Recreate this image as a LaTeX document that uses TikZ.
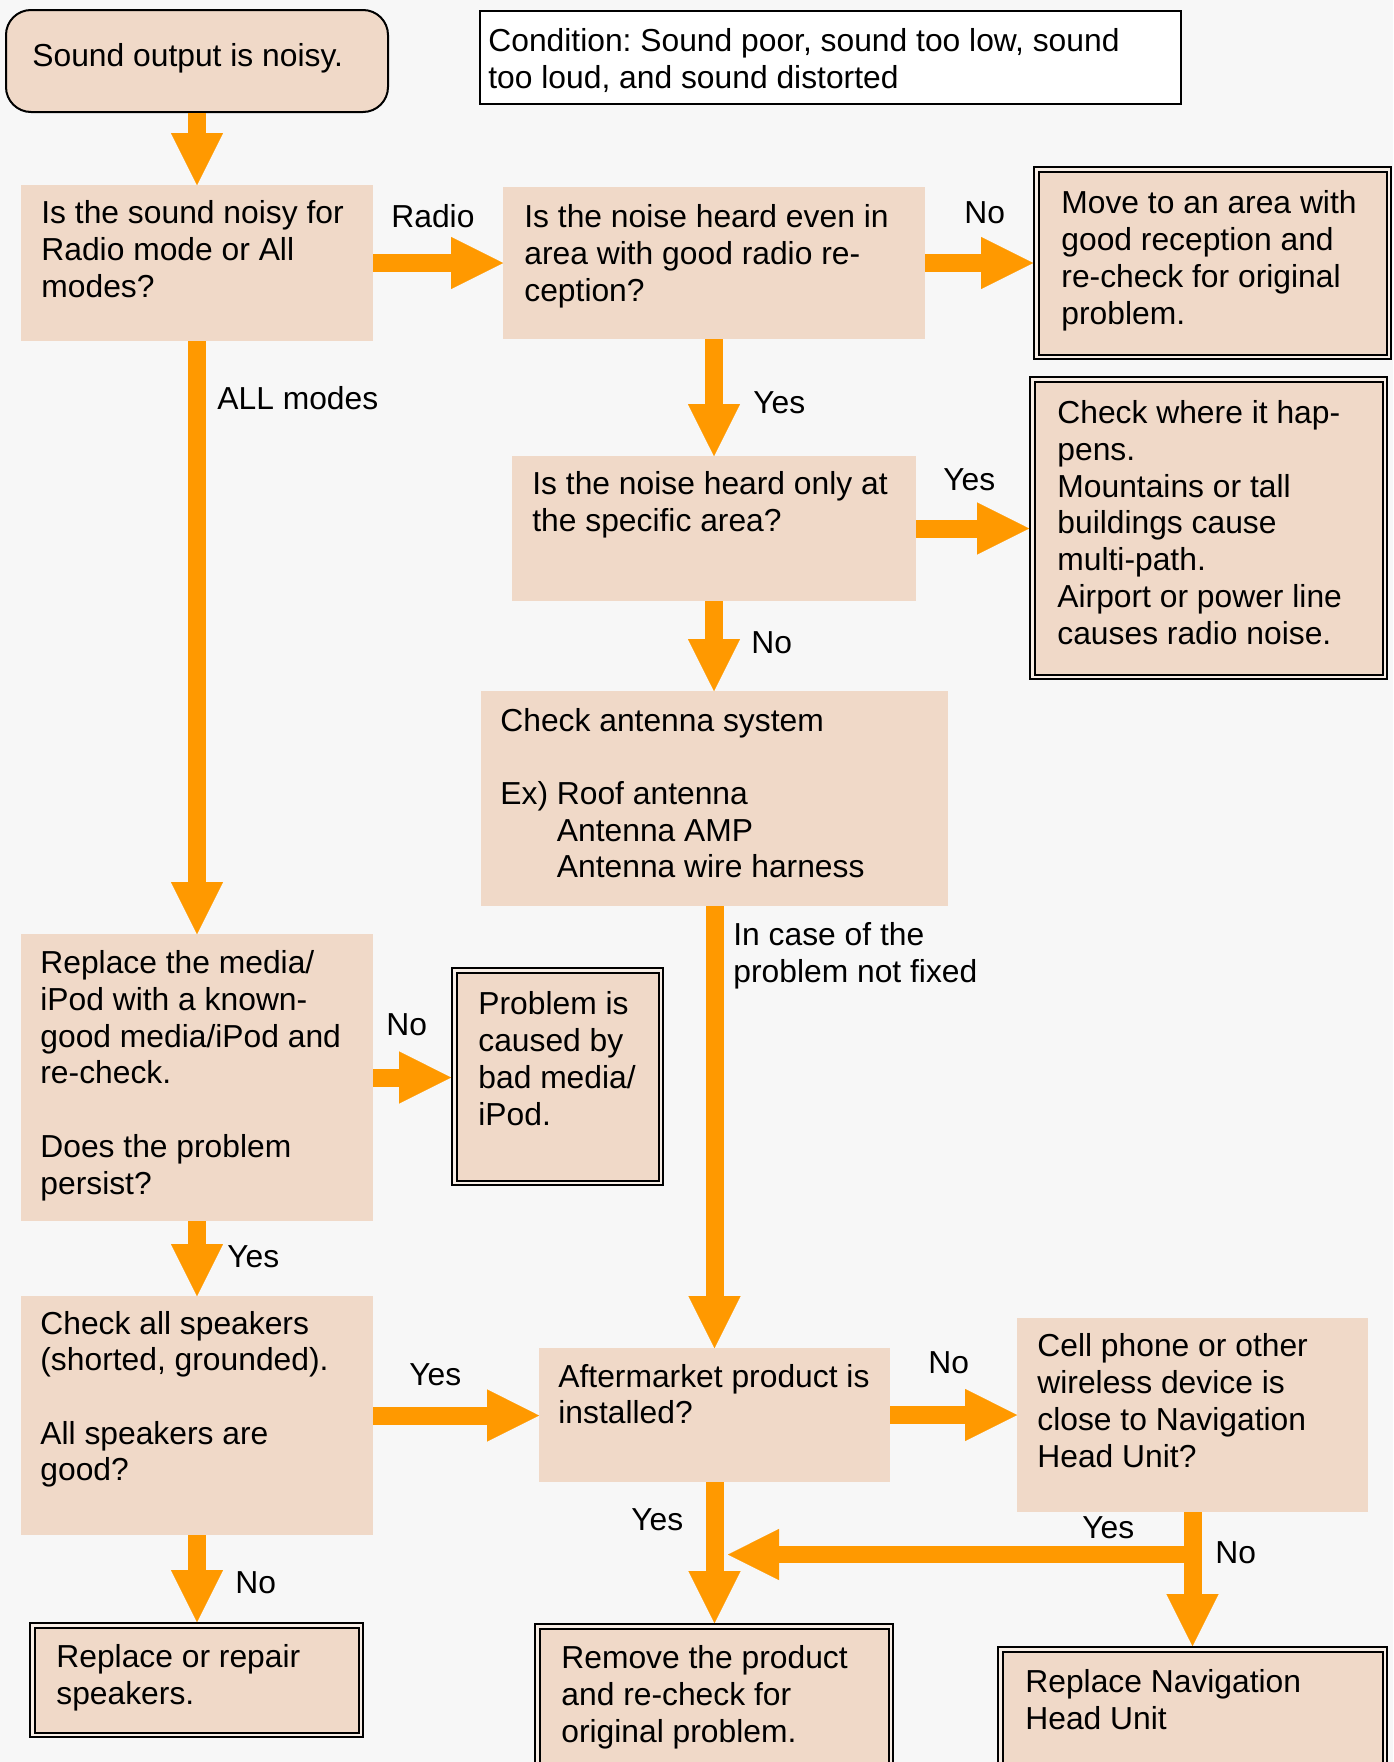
\documentclass[tikz,border=0pt]{standalone}
\usepackage{fontspec}
\setmainfont{Liberation Sans}
\usetikzlibrary{arrows.meta}
\definecolor{bgc}{HTML}{F7F7F7}
\definecolor{boxc}{HTML}{F0D9C8}
\definecolor{orng}{HTML}{FF9900}
\definecolor{gapc}{HTML}{F8EEE6}
\newcommand\fsz{\fontsize{15.9pt}{18.35pt}\selectfont\frenchspacing}
% box by outer corners: style, name, x1, y1, x2, y2, border allowance (px)
\newcommand\mkbox[7]{\node[#1, anchor=north west, minimum width={(#5-#3-#7)*0.5pt}, minimum height={(#6-#4-#7)*0.5pt}] (#2) at (#3,#4) {};}
\begin{document}
\begin{tikzpicture}[x=0.5pt,y=-0.5pt,
  plainbox/.style={fill=boxc, draw=none, inner sep=0pt, outer sep=0pt},
  dblbox/.style={fill=boxc, draw=black, line width=1pt, double=gapc, double distance=1.25pt, inner sep=0pt, outer sep=1.625pt},
  startbox/.style={fill=boxc, draw=black, line width=1pt, rounded corners=12.5pt, inner sep=0pt, outer sep=0.5pt},
  condbox/.style={fill=white, draw=black, line width=0.9pt, inner sep=0pt, outer sep=0.45pt},
  txt/.style={font=\fsz, inner sep=0pt, anchor=base west, align=left},
  lbl/.style={font=\fsz, inner sep=0pt, anchor=base west},
  arr/.style={draw=orng, line width=9pt, -{Triangle[width=26pt,length=26pt,line width=0.1pt]}},
  arrh/.style={draw=orng, line width=8.5pt, -{Triangle[width=25.5pt,length=25.5pt,line width=0.1pt]}},
]
\useasboundingbox (0,0) rectangle (1393,1762);
\clip (0,0) rectangle (1393,1762);
\fill[bgc] (0,0) rectangle (1393,1762);

% boxes
\mkbox{startbox}{start}{5}{9}{389}{113}{2}
\mkbox{condbox}{cond}{479}{10}{1182}{105}{1.8}
\mkbox{plainbox}{q1}{21}{185}{373}{341}{0}
\mkbox{plainbox}{q2}{503}{187}{925}{339}{0}
\mkbox{dblbox}{move}{1033}{166}{1392}{360}{6.5}
\mkbox{plainbox}{q3}{512}{456}{916}{601}{0}
\mkbox{dblbox}{where}{1029}{376}{1388}{680}{6.5}
\mkbox{plainbox}{ant}{481}{691}{948}{906}{0}
\mkbox{plainbox}{media}{21}{934}{373}{1221}{0}
\mkbox{dblbox}{prob}{451}{967}{664}{1186}{6.5}
\mkbox{plainbox}{spk}{21}{1296}{373}{1535}{0}
\mkbox{plainbox}{aft}{539}{1348}{890}{1482}{0}
\mkbox{plainbox}{cell}{1017}{1318}{1368}{1512}{0}
\mkbox{dblbox}{repl}{29}{1622}{364}{1738}{6.5}
\mkbox{dblbox}{remove}{534}{1623}{894}{1800}{6.5}
\mkbox{dblbox}{nav}{997}{1646}{1388}{1800}{6.5}

% connectors
\draw[arr] (start.south) -- (q1.north);
\draw[arr] (q1.east) -- (q2.west);
\draw[arr] (q2.east) -- (q2.east -| move.west);
\draw[arr] (q2.south) -- (q2.south |- q3.north);
\draw[arr] (q3.east) -- (q3.east -| where.west);
\draw[arr] (q3.south) -- (q3.south |- ant.north);
\draw[arr] (q1.south) -- (media.north);
\draw[arr] (ant.south) -- (ant.south |- aft.north);
\draw[arr] (media.east) -- (media.east -| prob.west);
\draw[arr] (media.south) -- (spk.north);
\draw[arr] (spk.east) -- (spk.east -| aft.west);
\draw[arr] (aft.east) -- (aft.east -| cell.west);
\draw[arr] (spk.south) -- (spk.south |- repl.north);
\draw[arr] (aft.south) -- (aft.south |- remove.north);
\draw[arr] (cell.south) -- (cell.south |- nav.north);
\coordinate (jn) at (cell.south |- 0,1554.5);
\coordinate (jt) at (728,1554.5);
\draw[arrh] (jn) -- (jt);

% box texts (anchored at the baseline of their last line)
\node[txt] (t0) at (32,66) {Sound output is noisy.};
\node[txt] (tc) at (488,88) {Condition: Sound poor, sound too low, sound\\too loud, and sound distorted};
\node[txt] (t1) at (41,297) {Is the sound noisy for\\Radio mode or All\\modes?};
\node[txt] (t2) at (524,301) {Is the noise heard even in\\area with good radio re-\\ception?};
\node[txt] (t3) at (1061,324) {Move to an area with\\good reception and\\re-check for original\\problem.};
\node[txt] (t4) at (532,531.5) {Is the noise heard only at\\the specific area?};
\node[txt] (t5) at (1057,644) {Check where it hap-\\pens.\\Mountains or tall\\buildings cause\\multi-path.\\Airport or power line\\causes radio noise.};
\node[txt] (t6) at (500,877.8) {Check antenna system\\[18.35pt]Ex) Roof antenna\\\hphantom{Ex) }Antenna AMP\\\hphantom{Ex) }Antenna wire harness};
\node[txt] (t7) at (40,1194) {Replace the media/\\iPod with a known-\\good media/iPod and\\re-check.\\[18.35pt]Does the problem\\persist?};
\node[txt] (t8) at (478,1125) {Problem is\\caused by\\bad media/\\iPod.};
\node[txt] (t9) at (40,1480.8) {Check all speakers\\(shorted, grounded).\\[18.35pt]All speakers are\\good?};
\node[txt] (t10) at (558,1423.7) {Aftermarket product is\\installed?};
\node[txt] (t11) at (1037,1467) {Cell phone or other\\wireless device is\\close to Navigation\\Head Unit?};
\node[txt] (t12) at (56,1704.5) {Replace or repair\\speakers.};
\node[txt] (t13) at (561,1742) {Remove the product\\and re-check for\\original problem.};
\node[txt] (t14) at (1025,1729.5) {Replace Navigation\\Head Unit};

% connector labels
\node[lbl] (lradio) at (391,227) {Radio};
\node[lbl] (lno1) at (964,223) {No};
\node[lbl] (lyes1) at (753,413) {Yes};
\node[lbl] (lyes2) at (943,490) {Yes};
\node[lbl] (lno2) at (751,653) {No};
\node[lbl] (lall) at (217,409) {ALL modes};
\node[txt] (lcase) at (733,982) {In case of the\\problem not fixed};
\node[lbl] (lno3) at (386,1035) {No};
\node[lbl] (lyes3) at (227,1267) {Yes};
\node[lbl] (lyes4) at (409,1385) {Yes};
\node[lbl] (lno4) at (928,1373) {No};
\node[lbl] (lyes5) at (631,1530) {Yes};
\node[lbl] (lyes6) at (1082,1538) {Yes};
\node[lbl] (lno5) at (1215,1563) {No};
\node[lbl] (lno6) at (235,1593) {No};
\end{tikzpicture}
\end{document}
